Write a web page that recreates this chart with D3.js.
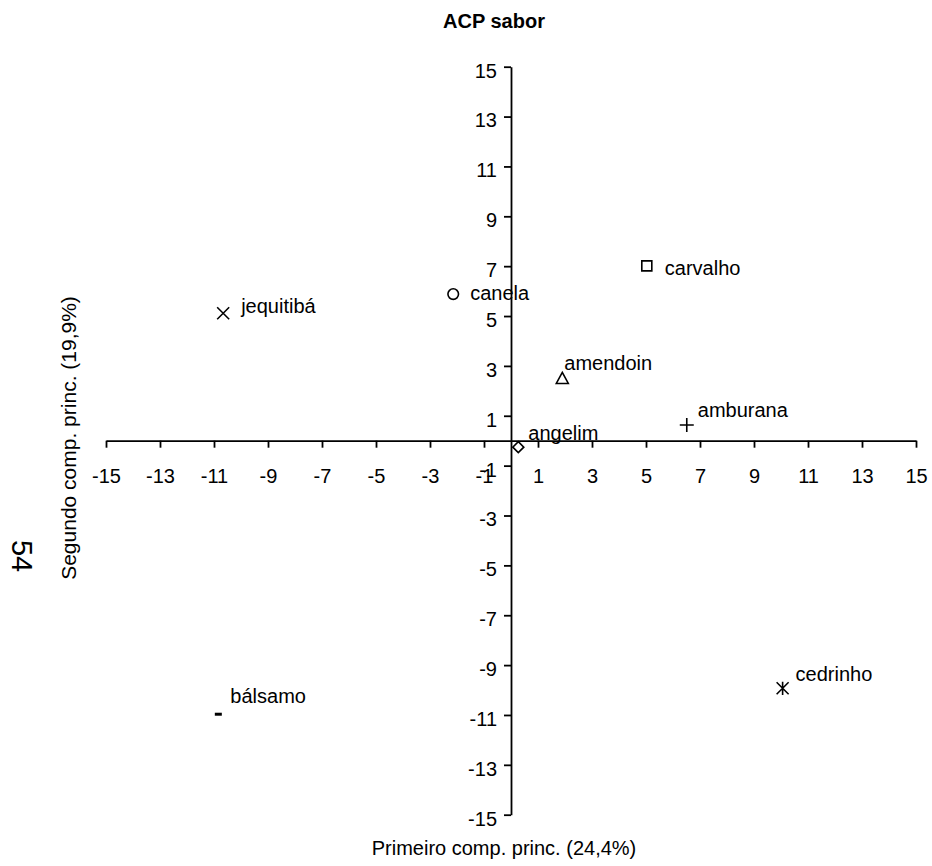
<!DOCTYPE html>
<html>
<head>
<meta charset="utf-8">
<script src="https://cdn.jsdelivr.net/npm/d3@7"></script>
<style>
  html, body { margin: 0; padding: 0; background: #fff; }
  svg { display: block; font-family: "Liberation Sans", Arial, sans-serif; }
</style>
</head>
<body>
<svg id="chart" width="932" height="866"></svg>
<script>
// Principal component scores for each wood
const woods = ["jequitibá", "canela", "carvalho", "amendoin", "angelim", "amburana", "cedrinho", "bálsamo"];
const pc1 = [-10.66, -2.14, 5.03, 1.90, 0.27, 6.51, 10.06, -10.84];
const pc2 = [5.11, 5.88, 7.01, 2.50, -0.26, 0.63, -9.93, -10.97];
const symbols = ["cross", "circle", "square", "triangle", "diamond", "plus", "asterisk", "dash"];

// Tick values shared by both axes
const ticks = [-15, -13, -11, -9, -7, -5, -3, -1, 1, 3, 5, 7, 9, 11, 13, 15];

// Label nudges (pixels from the marker to the label baseline start)
const labelDx = [18, 17, 18, 2, 10, 11, 13, 12];
const labelDy = [0, 6, 9, -8, -7, -8, -7, -11];

const svg = d3.select("#chart");
const fontSize = 20;

const x = d3.scaleLinear().domain([-15, 15]).range([106, 916]);
const y = d3.scaleLinear().domain([-15, 15]).range([814.7, 66.7]);

// Title
svg.append("text")
  .attr("x", 494).attr("y", 28)
  .attr("text-anchor", "middle")
  .attr("font-weight", "bold")
  .attr("font-size", 20)
  .text("ACP sabor");

// Axes crossing at the origin, plain hyphen for negatives
const fmt = d => String(d);
const xAxis = d3.axisBottom(x).tickValues(ticks).tickFormat(fmt).tickSize(7).tickSizeOuter(0).tickPadding(21);
const yAxis = d3.axisLeft(y).tickValues(ticks).tickFormat(fmt).tickSize(7).tickSizeOuter(0).tickPadding(7);

const gx = svg.append("g").attr("transform", `translate(0,${y(0)})`).call(xAxis);
const gy = svg.append("g").attr("transform", `translate(${x(0)},0)`).call(yAxis);

[gx, gy].forEach(g => {
  g.attr("font-family", null).attr("font-size", null);
  g.selectAll("path.domain, line").attr("stroke", "#000").attr("stroke-width", 1.8);
  g.selectAll("text").attr("fill", "#000").attr("font-size", fontSize);
});
gy.selectAll("text").attr("dy", "0.52em");

// Axis titles
svg.append("text")
  .attr("x", 504).attr("y", 855)
  .attr("text-anchor", "middle")
  .attr("font-size", fontSize)
  .text("Primeiro comp. princ. (24,4%)");

svg.append("text")
  .attr("transform", "translate(76,438) rotate(-90)")
  .attr("text-anchor", "middle")
  .attr("font-size", 21)
  .text("Segundo comp. princ. (19,9%)");

// Page number
svg.append("text")
  .attr("transform", "translate(12,556) rotate(90)")
  .attr("text-anchor", "middle")
  .attr("font-size", 29)
  .text("54");

// Marker shapes
function markerPath(kind) {
  switch (kind) {
    case "cross": { const s = 6; return `M${-s},${-s}L${s},${s}M${-s},${s}L${s},${-s}`; }
    case "circle": { const r = 5.3; return `M${r},0A${r},${r} 0 1,1 ${-r},0A${r},${r} 0 1,1 ${r},0Z`; }
    case "square": { const s = 5; return `M${-s},${-s}H${s}V${s}H${-s}Z`; }
    case "triangle": { const s = 6; return `M0,${-s}L${s},${s * 0.85}H${-s}Z`; }
    case "diamond": { const s = 5.5; return `M0,${-s}L${s},0L0,${s}L${-s},0Z`; }
    case "plus": { const s = 7; return `M${-s},0H${s}M0,${-s}V${s}`; }
    case "asterisk": { const s = 6; return `M${-s},${-s}L${s},${s}M${-s},${s}L${s},${-s}M0,${-s * 1.1}V${s * 1.1}`; }
    case "dash": { const s = 3.5; return `M${-s},0H${s}`; }
  }
}

const pts = svg.append("g").selectAll("g.pt")
  .data(woods.map((w, i) => ({ w, i })))
  .join("g")
  .attr("class", "pt")
  .attr("transform", d => `translate(${x(pc1[d.i])},${y(pc2[d.i])})`);

pts.append("path")
  .attr("d", d => markerPath(symbols[d.i]))
  .attr("fill", d => ["circle", "square", "triangle", "diamond"].includes(symbols[d.i]) ? "#fff" : "none")
  .attr("stroke", "#000")
  .attr("stroke-width", d => symbols[d.i] === "dash" ? 3 : 1.6);

pts.append("text")
  .attr("x", d => labelDx[d.i])
  .attr("y", d => labelDy[d.i])
  .attr("font-size", fontSize)
  .text(d => d.w);
</script>
</body>
</html>
